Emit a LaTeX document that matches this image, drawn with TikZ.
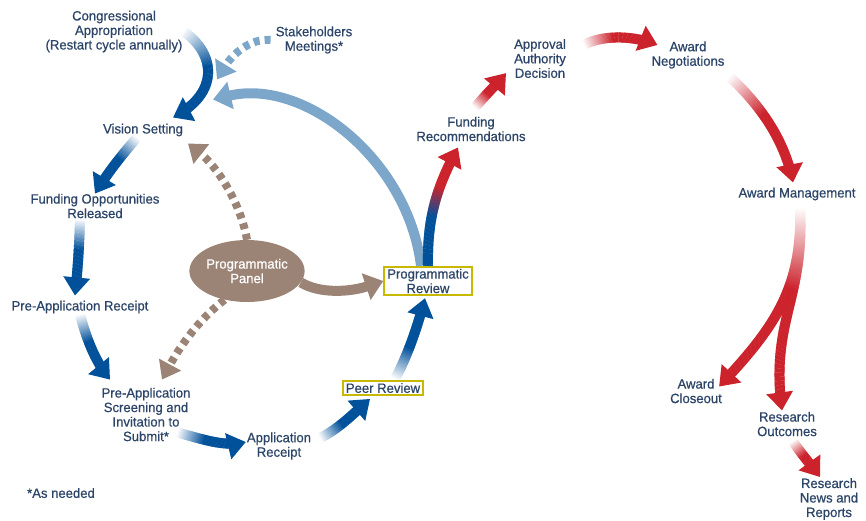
\documentclass[tikz,border=0pt]{standalone}
\usepackage{fontspec}
\setmainfont{Liberation Sans}[FakeStretch=0.97,FakeBold=0.6]
\usetikzlibrary{arrows.meta,decorations.markings,shapes.geometric}
\definecolor{cycleink}{HTML}{2C4468}
\definecolor{cycleblue}{HTML}{00509A}
\definecolor{cyclesky}{HTML}{7CA6CA}
\definecolor{cyclered}{HTML}{CC222C}
\definecolor{cyclebrown}{HTML}{9B8476}
\definecolor{cyclegold}{HTML}{C9B800}
\pgfdeclarelayer{background}
\pgfsetlayers{background,main}
\tikzset{
  cyclestep/.style={text=cycleink,align=center,inner sep=1pt,
    font=\fontsize{13.5}{14.5}\selectfont},
  cyclebox/.style={cyclestep,draw=cyclegold,line width=2pt,inner xsep=3pt,inner ysep=2pt},
  panelblob/.style={ellipse,fill=cyclebrown,text=white,minimum width=98pt,
    minimum height=62pt,inner sep=0pt,align=center,font=\fontsize{13.5}{14.5}\selectfont},
  % shaft made of thin slices, tail colour #1 blending into head colour #2
  shadeflow/.style n args={4}{
    postaction={decorate,decoration={markings,
      mark=between positions 0 and -12pt step 0.8pt with {%
        \pgfmathtruncatemacro\flowmix{min(100,max(0,(\pgfkeysvalueof{/pgf/decoration/mark info/distance from start}/\pgfdecoratedpathlength-#3)*#4))}%
        \fill[#2!\flowmix!#1] (-0.6pt,-5pt) rectangle (0.6pt,5pt);}}},
    postaction={decorate,decoration={markings,
      mark=at position 0.999 with {\fill[#2] (0,0) -- (-18pt,13.5pt) -- (-18pt,-13.5pt) -- cycle;}}}},
  blueflow/.style={shadeflow={white}{cycleblue}{0}{250}},
  redflow/.style={shadeflow={white}{cyclered}{0}{250}},
  plainflow/.style={draw=#1,line width=10pt,-{Triangle[length=18pt,width=27pt]}},
  dashflow/.style={draw=#1,line width=8pt,dash pattern=on 6pt off 5pt,
    -{Triangle[length=17pt,width=24pt]}},
}
\begin{document}
\begin{tikzpicture}[x=1pt,y=-1pt]
  \useasboundingbox (0,0) rectangle (866,521);
  % funding side
  \node[cyclestep] (cong) at (114,31.5) {Congressional\\Appropriation\\(Restart cycle annually)};
  \node[cyclestep] (stake) at (314,40) {Stakeholders\\Meetings*};
  \node[cyclestep] (vision) at (143,130) {Vision Setting};
  \node[cyclestep] (fundopp) at (95,206) {Funding Opportunities\\Released};
  \node[cyclestep] (prerec) at (80,307) {Pre-Application Receipt};
  \node[cyclestep] (prescreen) at (146,414.5) {Pre-Application\\Screening and\\Invitation to\\Submit*};
  \node[cyclestep] (apprec) at (279,446) {Application\\Receipt};
  \node[cyclebox] (peer) at (383,388) {Peer Review};
  \node[cyclebox] (progrev) at (428,281) {Programmatic\\Review};
  \node[panelblob] (panel) at (247,271) {Programmatic\\Panel};
  \node[cyclestep] (note) at (61,493) {*As needed};
  % award side
  \node[cyclestep] (fundrec) at (471,129) {Funding\\Recommendations};
  \node[cyclestep] (approval) at (540,58.5) {Approval\\Authority\\Decision};
  \node[cyclestep] (awardneg) at (688,55) {Award\\Negotiations};
  \node[cyclestep] (awardmgmt) at (797,194) {Award Management};
  \node[cyclestep] (closeout) at (696,391) {Award\\Closeout};
  \node[cyclestep] (outcomes) at (787,424) {Research\\Outcomes};
  \node[cyclestep] (news) at (829,499) {Research\\News and\\Reports};

  \begin{pgfonlayer}{background}
    \draw[plainflow=cyclesky] ([xshift=-7]progrev.north) .. controls (408,160) and (305,78) .. ([shift={(70,-23)}]vision.north);
    \draw[dashflow=cyclesky] ([xshift=-4]stake.west) .. controls (250,38) and (232,55) .. ([shift={(74,-43)}]vision.north);
    \path[blueflow] (cong.east) .. controls (214,52) and (222,92) .. ([shift={(30,-5)}]vision.north);
    \path[blueflow] ([xshift=-6]vision.south) .. controls (122,155) and (108,172) .. ([yshift=-1]fundopp.north);
    \path[blueflow] ([xshift=-15]fundopp.south) .. controls (79,255) and (77,275) .. ([shift={(-5,-4)}]prerec.north);
    \path[blueflow] (prerec.south) .. controls (88,345) and (98,365) .. ([shift={(-36,-7)}]prescreen.north);
    \path[blueflow] ([shift={(-14,18)}]prescreen.east) .. controls (205,440) and (225,447) .. ([yshift=4]apprec.west);
    \path[blueflow] ([shift={(8,-8)}]apprec.east) .. controls (340,428) and (355,412) .. ([shift={(-13,3)}]peer.south);
    \path[blueflow] ([shift={(12,-1)}]peer.north) .. controls (408,355) and (418,325) .. ([shift={(-3,2)}]progrev.south);
    \path[shadeflow={cycleblue}{cyclered}{0.4}{400}] (progrev.north) .. controls (427,215) and (438,185) .. ([shift={(-13,5)}]fundrec.south);
    \draw[dashflow=cyclebrown] (panel.north) .. controls (240,200) and (215,165) .. ([shift={(45,6)}]vision.south);
    \draw[dashflow=cyclebrown] (panel.232) .. controls (196,322) and (178,350) .. ([shift={(16,-7)}]prescreen.north);
    \draw[plainflow=cyclebrown] (panel.-12) .. controls (320,294) and (350,292) .. (progrev.west);
    \path[redflow] ([shift={(4,-8)}]fundrec.north) .. controls (488,92) and (497,84) .. ([shift={(-7,-6)}]approval.south west);
    \path[redflow] ([shift={(17,7)}]approval.north east) .. controls (600,36) and (630,34) .. ([shift={(7,-10)}]awardneg.west);
    \path[redflow] ([shift={(4,7)}]awardneg.south east) .. controls (760,105) and (785,140) .. ([shift={(-4,-4)}]awardmgmt.north);
    \path[redflow] ([shift={(3,6)}]awardmgmt.south) .. controls (803,290) and (772,330) .. ([shift={(-4,9)}]closeout.north east);
    \path[redflow] ([shift={(3,6)}]awardmgmt.south) .. controls (805,300) and (770,320) .. ([xshift=-5]outcomes.north);
    \path[redflow] ([shift={(6,4)}]outcomes.south) .. controls (802,455) and (812,466) .. ([xshift=-9]news.north);
  \end{pgfonlayer}
\end{tikzpicture}
\end{document}
